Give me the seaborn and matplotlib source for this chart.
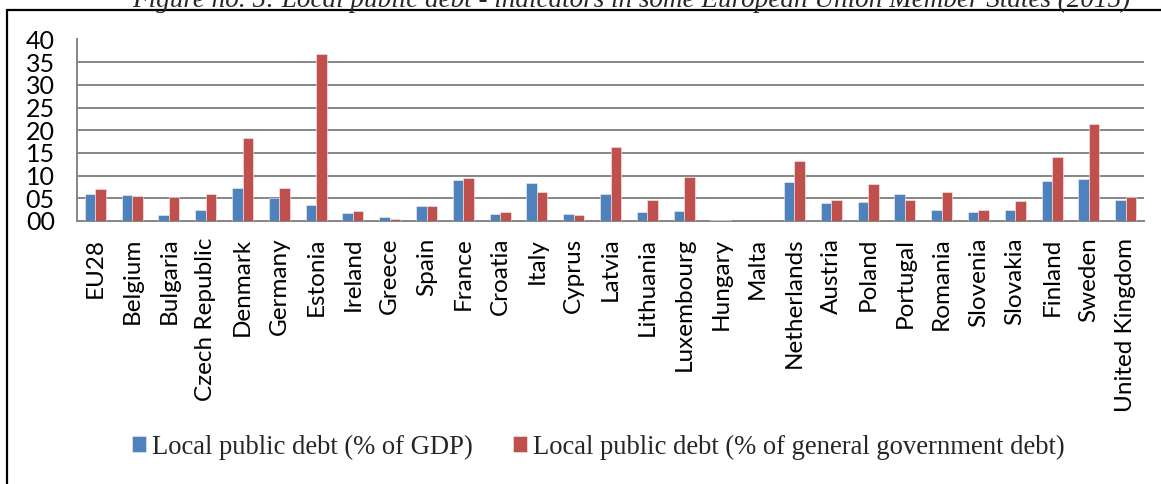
import numpy as np
import pandas as pd
import matplotlib
matplotlib.use('Agg')
import matplotlib.pyplot as plt
from matplotlib.lines import Line2D
import seaborn as sns

countries = ['EU28', 'Belgium', 'Bulgaria', 'Czech Republic', 'Denmark', 'Germany',
             'Estonia', 'Ireland', 'Greece', 'Spain', 'France', 'Croatia', 'Italy',
             'Cyprus', 'Latvia', 'Lithuania', 'Luxembourg', 'Hungary', 'Malta',
             'Netherlands', 'Austria', 'Poland', 'Portugal', 'Romania', 'Slovenia',
             'Slovakia', 'Finland', 'Sweden', 'United Kingdom']
debt_gdp = [5.9, 5.7, 1.3, 2.5, 7.3, 5.1, 3.6, 1.8, 0.9, 3.2, 9.0, 1.5, 8.4, 1.5,
            6.0, 2.0, 2.1, 0.15, 0.05, 8.6, 4.0, 4.2, 5.9, 2.5, 2.0, 2.4, 8.9, 9.3, 4.6]
debt_gov = [7.0, 5.4, 5.3, 6.0, 18.3, 7.2, 36.7, 2.1, 0.5, 3.2, 9.4, 1.9, 6.3, 1.3,
            16.4, 4.6, 9.7, 0.2, 0.1, 13.2, 4.6, 8.2, 4.6, 6.4, 2.4, 4.4, 14.1, 21.4, 5.2]
series_names = ['Local public debt (% of GDP)',
                'Local public debt (% of general government debt)']
y_ticks = [0, 5, 10, 15, 20, 25, 30, 35, 40]
title = 'Figure no. 5: Local public debt - indicators in some European Union Member States (2015)'

df = pd.DataFrame({'country': countries,
                   series_names[0]: debt_gdp,
                   series_names[1]: debt_gov})
df = df.melt(id_vars='country', var_name='series', value_name='value')

sns.set_style('white')
plt.rcParams['font.family'] = ['Lato', 'DejaVu Sans']

W, H = 1161, 484
fig = plt.figure(figsize=(W / 100, H / 100), dpi=100)
ax = fig.add_axes([77 / W, 1 - 221 / H, (1144 - 77) / W, (221 - 39.5) / H])

sns.barplot(data=df, x='country', y='value', hue='series', order=countries,
            hue_order=series_names, palette=['#4F81BD', '#C0504D'], saturation=1,
            width=0.57, gap=0, edgecolor='#f2f2f2', linewidth=0.4,
            errorbar=None, ax=ax, zorder=3)

handles, labels = ax.get_legend_handles_labels()
if ax.get_legend() is not None:
    ax.get_legend().remove()

grid_col = '#868686'
ax.set_ylim(0, 40)
ax.set_xlim(-0.5, len(countries) - 0.5)
ax.set_yticks(y_ticks)
ax.set_yticklabels([f'{v:02d}' for v in y_ticks])
ax.yaxis.grid(True, color=grid_col, linewidth=1.4, zorder=0)
ax.set_axisbelow(True)
ax.set_xlabel('')
ax.set_ylabel('')

for s in ['top', 'right']:
    ax.spines[s].set_visible(False)
for s in ['left', 'bottom']:
    ax.spines[s].set_color(grid_col)
    ax.spines[s].set_linewidth(1.4)

ax.set_xticks(range(len(countries)))
ax.set_xticklabels(countries, rotation=90, fontsize=17.5)
ax.set_xticks(np.arange(-0.5, len(countries), 1.0), minor=True)
ax.tick_params(axis='x', which='major', length=0, pad=12, labelcolor='black')
ax.tick_params(axis='x', which='minor', length=6, width=1.4, color=grid_col,
               direction='out')
ax.tick_params(axis='y', length=6, width=1.4, color=grid_col, pad=10,
               labelsize=18, labelcolor='black')

fig.legend(handles, labels, loc='center', bbox_to_anchor=(598 / W, 1 - 447 / H),
           ncol=2, frameon=False, prop={'family': 'Liberation Serif', 'size': 19.2},
           handlelength=0.55, handleheight=0.55, handletextpad=0.2,
           columnspacing=1.5, borderpad=0)

fig.text(631 / W, 1 - 7 / H, title, ha='center', va='baseline',
         family='Liberation Serif', style='italic', fontsize=19.5)

fig.add_artist(Line2D([7 / W, 7 / W], [0, 1 - 10 / H], color='black', linewidth=1.6,
                      transform=fig.transFigure))
fig.add_artist(Line2D([7 / W, 1], [1 - 10 / H, 1 - 10 / H], color='black',
                      linewidth=1.6, transform=fig.transFigure))

fig.savefig('out.png', dpi=100)
